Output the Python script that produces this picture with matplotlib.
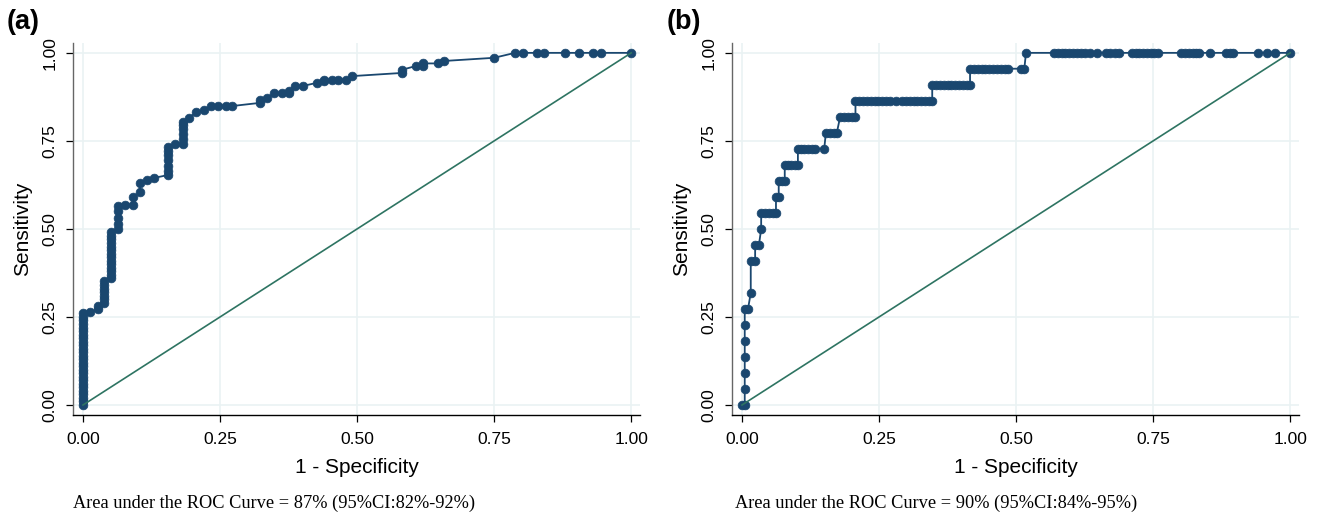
import matplotlib
matplotlib.use("Agg")
import matplotlib.pyplot as plt

# ---------------- data: panel (a) ----------------
fpr_a = [0.000, 0.000, 0.000, 0.000, 0.000, 0.000, 0.000, 0.000, 0.000, 0.000,
         0.000, 0.000, 0.000, 0.000, 0.000, 0.000, 0.000, 0.000, 0.000, 0.000,
         0.000, 0.000, 0.000, 0.000, 0.000, 0.000, 0.000,
         0.013,
         0.027, 0.027,
         0.039, 0.039, 0.039, 0.039, 0.039, 0.039, 0.039,
         0.051, 0.051, 0.051, 0.051, 0.051, 0.051, 0.051, 0.051, 0.051, 0.051,
         0.051, 0.051, 0.051, 0.051,
         0.064, 0.064, 0.064, 0.064, 0.064,
         0.077,
         0.091, 0.091,
         0.104, 0.104,
         0.117,
         0.130,
         0.155, 0.155, 0.155, 0.155, 0.155, 0.155, 0.155,
         0.168,
         0.182, 0.182, 0.182, 0.182, 0.182, 0.182,
         0.194, 0.207, 0.220, 0.233, 0.247, 0.260, 0.272,
         0.323, 0.323, 0.335, 0.349, 0.363, 0.375, 0.375, 0.387, 0.401,
         0.427, 0.440, 0.440, 0.454, 0.466, 0.480, 0.491,
         0.582, 0.582, 0.608, 0.620, 0.620, 0.648, 0.659, 0.750,
         0.788, 0.803, 0.828, 0.841, 0.880, 0.905, 0.930, 0.945, 1.000]
tpr_a = [0.000, 0.010, 0.020, 0.030, 0.040, 0.050, 0.060, 0.070, 0.080, 0.090,
         0.100, 0.110, 0.120, 0.130, 0.140, 0.150, 0.160, 0.170, 0.180, 0.190,
         0.200, 0.210, 0.220, 0.230, 0.240, 0.250, 0.260,
         0.263,
         0.272, 0.281,
         0.290, 0.300, 0.310, 0.320, 0.330, 0.340, 0.352,
         0.360, 0.370, 0.380, 0.390, 0.400, 0.410, 0.420, 0.430, 0.440, 0.450,
         0.460, 0.470, 0.480, 0.490,
         0.500, 0.515, 0.530, 0.550, 0.565,
         0.568,
         0.568, 0.590,
         0.605, 0.630,
         0.640,
         0.645,
         0.653, 0.665, 0.680, 0.695, 0.710, 0.720, 0.733,
         0.741,
         0.741, 0.755, 0.770, 0.785, 0.795, 0.804,
         0.815, 0.833, 0.838, 0.849, 0.849, 0.849, 0.849,
         0.858, 0.866, 0.872, 0.886, 0.886, 0.886, 0.893, 0.906, 0.906,
         0.915, 0.920, 0.923, 0.923, 0.923, 0.923, 0.934,
         0.943, 0.952, 0.963, 0.963, 0.970, 0.970, 0.977, 0.986,
         1.000, 1.000, 1.000, 1.000, 1.000, 1.000, 1.000, 1.000, 1.000]

# ---------------- data: panel (b) ----------------
fpr_b = [0.000, 0.005,
         0.005, 0.005, 0.005, 0.005, 0.005, 0.005, 0.011,
         0.016,
         0.016, 0.024,
         0.024, 0.031,
         0.035,
         0.035, 0.042, 0.049, 0.056, 0.062,
         0.062, 0.067,
         0.067, 0.073, 0.078,
         0.078, 0.084, 0.090, 0.096, 0.102,
         0.102, 0.108, 0.114, 0.120, 0.127, 0.133, 0.150,
         0.153, 0.160, 0.167, 0.173,
         0.179, 0.186, 0.193, 0.200, 0.207,
         0.207, 0.214, 0.221, 0.228, 0.235, 0.242, 0.249, 0.256, 0.263, 0.270,
         0.281, 0.292, 0.299, 0.306, 0.313, 0.320, 0.327, 0.334, 0.341, 0.347,
         0.347, 0.354, 0.361, 0.368, 0.375, 0.382, 0.389, 0.396, 0.403, 0.410, 0.416,
         0.416, 0.423, 0.430, 0.437, 0.444, 0.451, 0.458, 0.465, 0.472, 0.479,
         0.486, 0.509, 0.515,
         0.518, 0.569, 0.576, 0.583, 0.590, 0.597, 0.604, 0.611, 0.618, 0.625,
         0.634, 0.647, 0.664, 0.672, 0.680, 0.688, 0.711, 0.718, 0.725, 0.732,
         0.739, 0.746, 0.752, 0.758, 0.801, 0.808, 0.815, 0.822, 0.828, 0.834,
         0.854, 0.883, 0.890, 0.896, 0.942, 0.958, 0.973, 1.000]
tpr_b = [0.000, 0.000,
         0.045, 0.091, 0.136, 0.182, 0.227, 0.273, 0.273,
         0.318,
         0.409, 0.409,
         0.455, 0.455,
         0.500,
         0.545, 0.545, 0.545, 0.545, 0.545,
         0.591, 0.591,
         0.636, 0.636, 0.636,
         0.682, 0.682, 0.682, 0.682, 0.682,
         0.727, 0.727, 0.727, 0.727, 0.727, 0.727, 0.727,
         0.773, 0.773, 0.773, 0.773,
         0.818, 0.818, 0.818, 0.818, 0.818,
         0.864, 0.864, 0.864, 0.864, 0.864, 0.864, 0.864, 0.864, 0.864, 0.864,
         0.864, 0.864, 0.864, 0.864, 0.864, 0.864, 0.864, 0.864, 0.864, 0.864,
         0.909, 0.909, 0.909, 0.909, 0.909, 0.909, 0.909, 0.909, 0.909, 0.909, 0.909,
         0.955, 0.955, 0.955, 0.955, 0.955, 0.955, 0.955, 0.955, 0.955, 0.955,
         0.955, 0.955, 0.955,
         1.000, 1.000, 1.000, 1.000, 1.000, 1.000, 1.000, 1.000, 1.000, 1.000,
         1.000, 1.000, 1.000, 1.000, 1.000, 1.000, 1.000, 1.000, 1.000, 1.000,
         1.000, 1.000, 1.000, 1.000, 1.000, 1.000, 1.000, 1.000, 1.000, 1.000,
         1.000, 1.000, 1.000, 1.000, 1.000, 1.000, 1.000, 1.000]

ticks = [0.0, 0.25, 0.5, 0.75, 1.0]
tick_labels = ["0.00", "0.25", "0.50", "0.75", "1.00"]
panel_labels = ["(a)", "(b)"]
auc_texts = ["Area under the ROC Curve = 87% (95%CI:82%-92%)",
             "Area under the ROC Curve = 90% (95%CI:84%-95%)"]
xlabel = "1 - Specificity"
ylabel = "Sensitivity"

assert len(fpr_a) == len(tpr_a)
assert len(fpr_b) == len(tpr_b)

# ---------------- style ----------------
NAVY = "#1a476f"
TEAL = "#2e7462"
GRID = "#eaf2f3"
SANS = "Liberation Sans"
SERIF = "Liberation Serif"

W, H = 1318, 513
fig = plt.figure(figsize=(W / 100, H / 100), dpi=100)

axes_px = [(73, 640), (732, 1299)]
top_px, bot_px = 43, 415
ann_x = [73, 735]
lab_x = [7, 667]

for i, (fpr, tpr) in enumerate([(fpr_a, tpr_a), (fpr_b, tpr_b)]):
    l, r = axes_px[i]
    ax = fig.add_axes([l / W, (H - bot_px) / H, (r - l) / W, (bot_px - top_px) / H])
    ax.set_xlim(-0.0182, 1.016)
    ax.set_ylim(-0.0284, 1.028)
    ax.set_xticks(ticks)
    ax.set_xticklabels(tick_labels, fontfamily=SANS, fontsize=12.5)
    ax.set_yticks(ticks)
    ax.set_yticklabels(tick_labels, fontfamily=SANS, fontsize=12.5,
                       rotation=90, va="center")
    ax.grid(True, color=GRID, linewidth=1.2)
    ax.set_axisbelow(True)
    for s in ["top", "right"]:
        ax.spines[s].set_visible(False)
    ax.spines["left"].set_color("#666666")
    ax.spines["bottom"].set_color("black")
    ax.spines["left"].set_linewidth(1.0)
    ax.spines["bottom"].set_linewidth(1.0)
    ax.tick_params(direction="out", length=5, width=0.9)
    ax.tick_params(axis="x", pad=7)
    ax.tick_params(axis="y", pad=6)
    ax.plot(fpr, tpr, color=NAVY, linewidth=1.3, marker="o",
            markersize=6.3, markerfacecolor=NAVY, markeredgecolor=NAVY,
            markeredgewidth=0.5, zorder=3)
    ax.plot([0, 1], [0, 1], color=TEAL, linewidth=1.2, zorder=4)
    ax.set_xlabel(xlabel, fontfamily=SANS, fontsize=15, labelpad=8)
    ax.set_ylabel(ylabel, fontfamily=SANS, fontsize=15, labelpad=8)
    fig.text(lab_x[i] / W, 1 - 22 / H, panel_labels[i], fontfamily=SANS,
             fontsize=19.5, fontweight="bold", va="center", ha="left")
    fig.text(ann_x[i] / W, 1 - 503 / H, auc_texts[i], fontfamily=SERIF,
             fontsize=13.2, va="center", ha="left")

fig.savefig("out.png", dpi=100, facecolor="white")
